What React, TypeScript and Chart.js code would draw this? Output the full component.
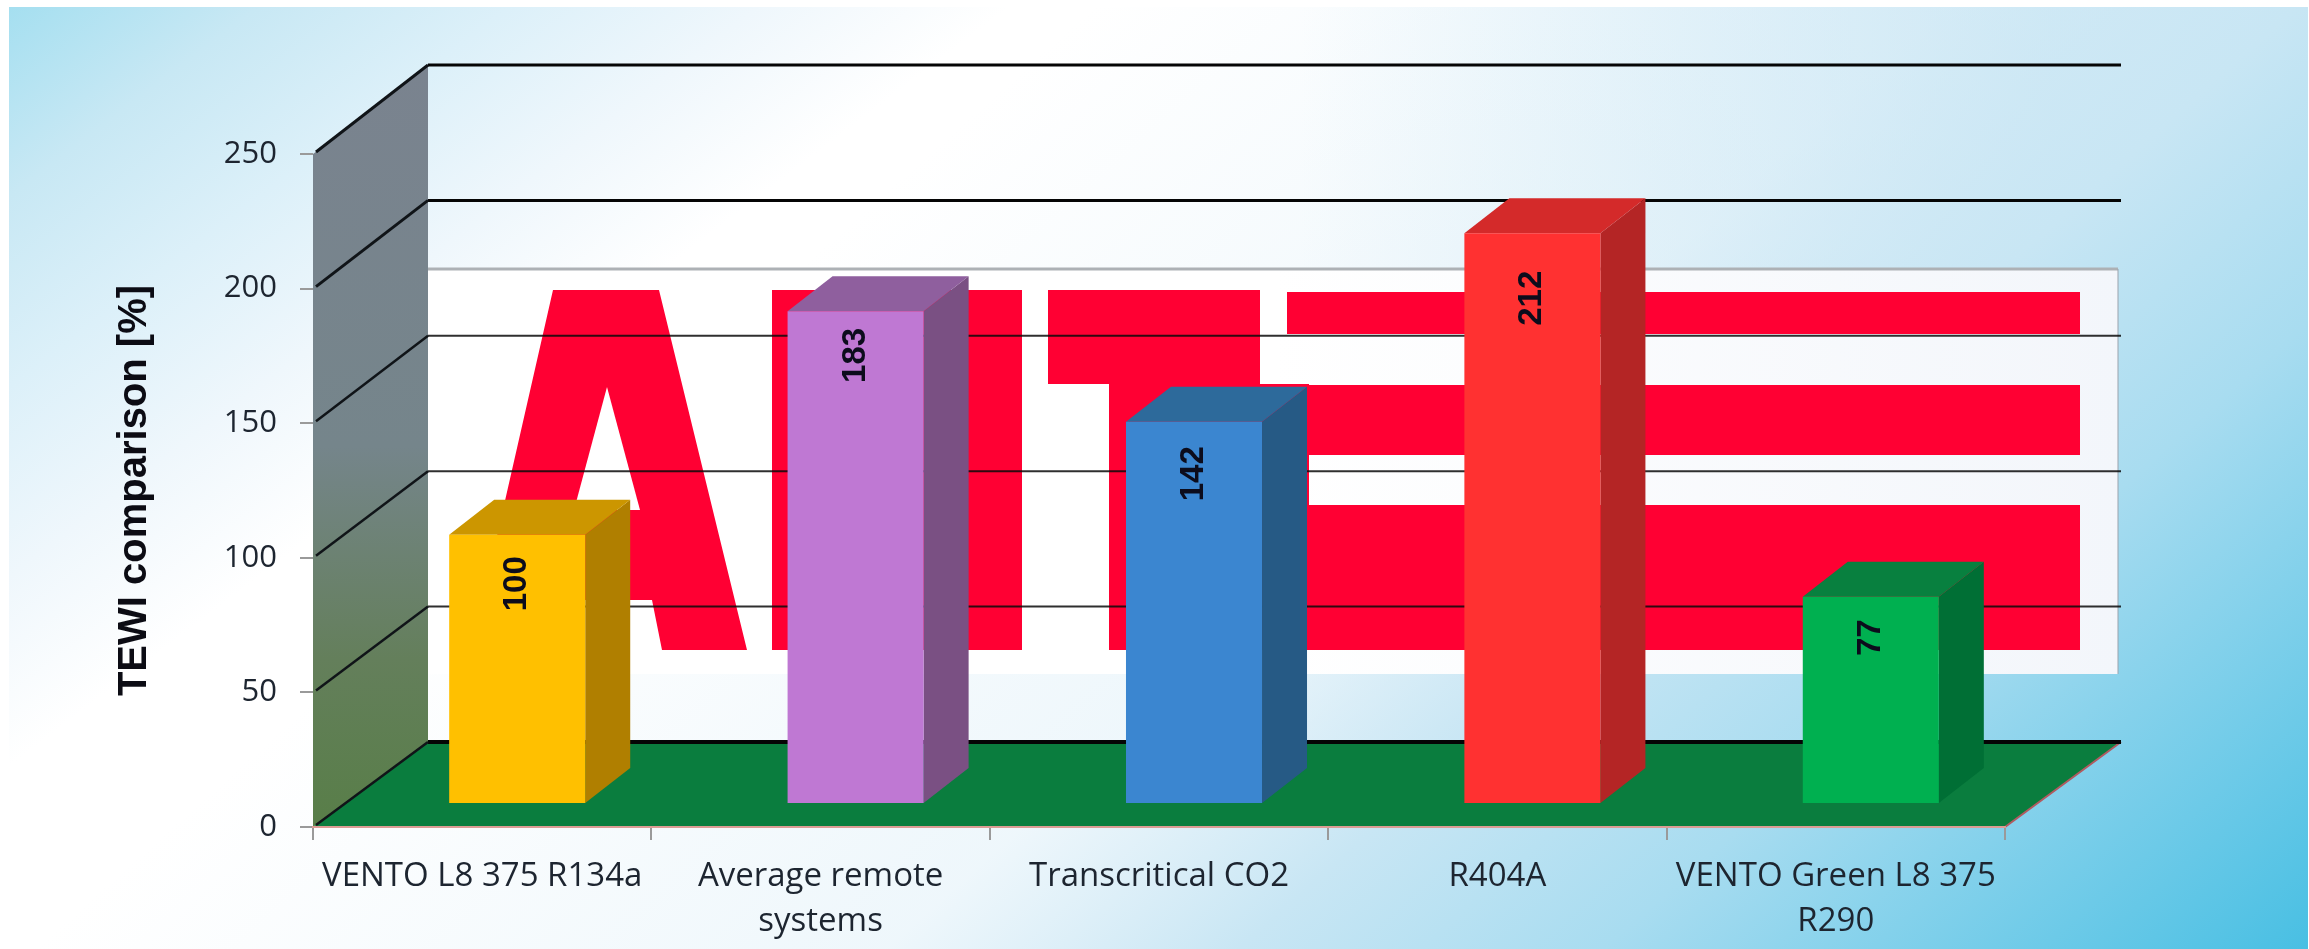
import React, { useEffect, useRef } from "react";
import { Chart, registerables } from "chart.js";

Chart.register(...registerables);

// ---------- data ----------
const categories: (string | string[])[] = [
  "VENTO L8 375 R134a",
  ["Average remote", "systems"],
  "Transcritical CO2",
  "R404A",
  ["VENTO Green L8 375", "R290"],
];
const tewiValues = [100, 183, 142, 212, 77];
const yAxisTitle = "TEWI comparison [%]";

// ---------- styles ----------
const frontColors = ["#ffc000", "#bf78d3", "#3b86d0", "#ff3131", "#00b050"];
const sideColors = ["#b07f00", "#7a5083", "#265a85", "#b42525", "#006f35"];
const topColors = ["#cc9600", "#8f5f9e", "#2d6a9b", "#d42a2a", "#08803f"];
const labelDrops = [49, 44, 52, 65, 41];

const W = 2309;
const H = 949;
const PLOT = { left: 313, right: 2005, top: 154, bottom: 827 };
const WALL_DX = 115;
const WALL_DY_ZERO = -85;
const WALL_DY_TOP = -89;
const BAR_SHIFT = { x: 35, y: -23 };
const BAR_DEPTH = { x: 45, y: -35 };
const LOGO_RED = "#ff0033";

function poly(ctx: CanvasRenderingContext2D, pts: number[][], fill: string | CanvasGradient) {
  ctx.beginPath();
  pts.forEach((p, i) => (i ? ctx.lineTo(p[0], p[1]) : ctx.moveTo(p[0], p[1])));
  ctx.closePath();
  ctx.fillStyle = fill;
  ctx.fill();
}

function line(ctx: CanvasRenderingContext2D, x1: number, y1: number, x2: number, y2: number, color: string, w: number) {
  ctx.beginPath();
  ctx.moveTo(x1, y1);
  ctx.lineTo(x2, y2);
  ctx.strokeStyle = color;
  ctx.lineWidth = w;
  ctx.stroke();
}

function drawBackground(ctx: CanvasRenderingContext2D) {
  ctx.fillStyle = "#ffffff";
  ctx.fillRect(0, 0, W, H);
  const bx = 9, by = 7, bw = W - 10, bh = H - 7;
  const tr = ctx.createLinearGradient(1300, 0, 2050, 0);
  tr.addColorStop(0, "rgba(205,232,245,0)");
  tr.addColorStop(1, "rgba(205,232,245,0.95)");
  ctx.fillStyle = tr;
  ctx.fillRect(bx, by, bw, bh);
  const br = ctx.createLinearGradient(1303, -182, 2309, 949);
  br.addColorStop(0, "rgba(207,232,245,0)");
  br.addColorStop(0.375, "rgba(207,232,245,0.35)");
  br.addColorStop(0.53, "rgba(200,230,244,1)");
  br.addColorStop(0.69, "#a8dcf0");
  br.addColorStop(1, "#48bfe3");
  ctx.fillStyle = br;
  ctx.fillRect(bx, by, bw, bh);
  const tl = ctx.createLinearGradient(9, 7, 375, 489);
  tl.addColorStop(0, "rgba(165,223,240,1)");
  tl.addColorStop(0.25, "rgba(200,232,244,1)");
  tl.addColorStop(0.5, "rgba(220,240,249,1)");
  tl.addColorStop(0.75, "rgba(239,247,252,1)");
  tl.addColorStop(1, "rgba(239,247,252,0)");
  ctx.fillStyle = tl;
  ctx.fillRect(bx, by, bw, bh);
}

const sceneryPlugin = {
  id: "scenery",
  beforeDraw(chart: any) {
    const ctx: CanvasRenderingContext2D = chart.ctx;
    const y = chart.scales.y;
    const x = chart.scales.x;
    const backX = x.left + WALL_DX;
    const backRight = x.right + WALL_DX + 1;
    const backY = (v: number) =>
      y.getPixelForValue(v) + WALL_DY_ZERO + (WALL_DY_TOP - WALL_DY_ZERO) * (v / y.max);
    ctx.save();
    drawBackground(ctx);

    // image frame on the back wall
    const frame = ctx.createLinearGradient(backX, 0, backRight, 0);
    frame.addColorStop(0, "#ffffff");
    frame.addColorStop(0.5, "#ffffff");
    frame.addColorStop(1, "#f3f6fb");
    ctx.fillStyle = frame;
    ctx.fillRect(backX, 269, backRight - 3 - backX, 405);
    line(ctx, backX, 269, backRight - 3, 269, "#adb1b5", 3);
    line(ctx, backRight - 3, 269, backRight - 3, 674, "#9aa3ad", 1);

    // logo
    poly(ctx, [[553, 290], [659, 290], [747, 650], [662, 650], [652, 600], [560, 600], [548, 650], [471, 650]], LOGO_RED);
    poly(ctx, [[607, 387], [574, 510], [640, 510]], "#ffffff");
    ctx.fillStyle = LOGO_RED;
    ctx.fillRect(772, 290, 250, 360);
    ctx.fillRect(1048, 290, 212, 94);
    ctx.fillRect(1109, 384, 200, 266);
    ctx.fillRect(1287, 292, 793, 42);
    ctx.fillRect(1200, 385, 880, 70);
    ctx.fillRect(1109, 505, 971, 145);

    // left wall
    const wall = ctx.createLinearGradient(0, backY(y.max), 0, y.getPixelForValue(0));
    wall.addColorStop(0, "#7a838f");
    wall.addColorStop(0.5, "#75858b");
    wall.addColorStop(0.78, "#647f5b");
    wall.addColorStop(1, "#587e48");
    poly(ctx, [
      [x.left, y.getPixelForValue(y.max)],
      [backX, backY(y.max)],
      [backX, backY(0)],
      [x.left, y.getPixelForValue(0)],
    ], wall);

    // floor
    const f0 = y.getPixelForValue(0);
    poly(ctx, [[x.left, f0], [backX, backY(0)], [backRight, backY(0)], [x.right, f0]], "#0a7d3e");
    line(ctx, x.right, f0, backRight, backY(0), "#b25a60", 2);

    // grid
    y.ticks.forEach((t: any) => {
      const v = t.value;
      const by2 = backY(v);
      const heavy = v >= 200;
      const w = v === 0 ? 4 : heavy ? 3 : 2;
      const c = v === 0 || heavy ? "#050505" : "rgba(10,10,10,0.85)";
      line(ctx, backX, by2, backRight, by2, c, w);
      line(ctx, x.left + 3, y.getPixelForValue(v) - 2, backX, by2, "#101418", heavy ? 3 : 2.5);
    });
    ctx.restore();
  },
  beforeDatasetsDraw(chart: any) {
    const ctx: CanvasRenderingContext2D = chart.ctx;
    const meta = chart.getDatasetMeta(0);
    ctx.save();
    ctx.translate(BAR_SHIFT.x, BAR_SHIFT.y);
    meta.data.forEach((bar: any, i: number) => {
      const l = bar.x - bar.width / 2;
      const r = bar.x + bar.width / 2;
      const t = bar.y;
      const b = bar.base;
      const d = BAR_DEPTH;
      poly(ctx, [[r, t], [r + d.x, t + d.y], [r + d.x, b + d.y], [r, b]], sideColors[i]);
      poly(ctx, [[l, t], [l + d.x, t + d.y], [r + d.x, t + d.y], [r, t]], topColors[i]);
    });
  },
  afterDatasetsDraw(chart: any) {
    const ctx: CanvasRenderingContext2D = chart.ctx;
    const meta = chart.getDatasetMeta(0);
    meta.data.forEach((bar: any, i: number) => {
      ctx.save();
      ctx.translate(bar.x, bar.y + labelDrops[i]);
      ctx.rotate(-Math.PI / 2);
      ctx.font = 'bold 33px "Liberation Sans"';
      ctx.textAlign = "center";
      ctx.textBaseline = "middle";
      ctx.fillStyle = "#0c0c1c";
      ctx.fillText(String(tewiValues[i]), 0, 0);
      ctx.restore();
    });
    ctx.restore();
  },
};

export default function App() {
  const ref = useRef<HTMLCanvasElement | null>(null);
  useEffect(() => {
    if (!ref.current) return;
    const chart = new Chart(ref.current, {
      type: "bar",
      data: {
        labels: categories as any,
        datasets: [
          {
            label: "TEWI",
            data: tewiValues,
            backgroundColor: frontColors,
            barPercentage: 0.402,
            categoryPercentage: 1,
            clip: false as any,
          },
        ],
      },
      options: {
        responsive: false,
        animation: false,
        devicePixelRatio: 1,
        layout: { padding: { left: 0, right: W - PLOT.right, top: PLOT.top, bottom: 0 } },
        plugins: { legend: { display: false }, tooltip: { enabled: false } },
        scales: {
          x: {
            grid: { drawOnChartArea: false, drawTicks: true, tickLength: 13, color: "#9a9a9a", lineWidth: 2 },
            border: { color: "#dc9c94", width: 2 },
            ticks: {
              maxRotation: 0,
              minRotation: 0,
              autoSkip: false,
              padding: 14,
              color: "#1d2530",
              font: { family: '"Open Sans"', size: 33, lineHeight: 1.37 },
            },
            afterFit(scale: any) {
              scale.height = H - PLOT.bottom;
            },
          },
          y: {
            min: 0,
            max: 250,
            grid: { drawOnChartArea: false, drawTicks: true, tickLength: 13, color: "#9a9a9a", lineWidth: 2 },
            border: { display: false },
            ticks: {
              stepSize: 50,
              padding: 23,
              color: "#1d2530",
              font: { family: '"Open Sans"', size: 31 },
            },
            title: {
              display: true,
              text: yAxisTitle,
              color: "#0c0c14",
              font: { family: '"Liberation Sans"', size: 40, weight: "bold", lineHeight: 1.2 },
              padding: { top: 111, bottom: 0 },
            },
            afterFit(scale: any) {
              scale.width = PLOT.left;
            },
          },
        },
      },
      plugins: [sceneryPlugin],
    } as any);
    return () => chart.destroy();
  }, []);
  return (
    <div style={{ position: "fixed", left: 0, top: 0, width: W, height: H }}>
      <canvas ref={ref} width={W} height={H} style={{ display: "block", width: W, height: H }} />
    </div>
  );
}
